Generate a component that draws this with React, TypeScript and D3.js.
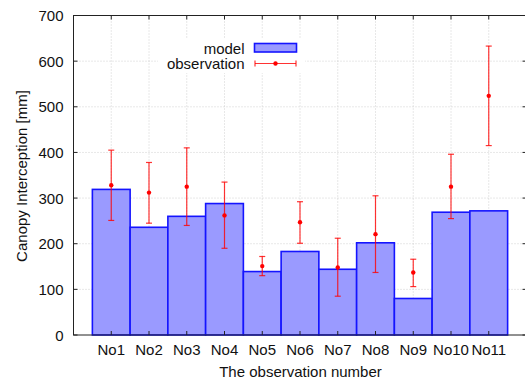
import React from 'react';
import * as d3 from 'd3';

const categories = ['No1', 'No2', 'No3', 'No4', 'No5', 'No6', 'No7', 'No8', 'No9', 'No10', 'No11'];
const modelValues = [319, 236, 260, 288, 139, 183, 144, 202, 80, 269, 272];
const obsValues = [328, 312, 325, 262, 151, 247, 148, 221, 137, 325, 524];
const obsLow = [251, 245, 240, 190, 130, 201, 85, 137, 106, 255, 415];
const obsHigh = [405, 378, 410, 335, 172, 292, 212, 305, 166, 396, 633];
const yTicks = [0, 100, 200, 300, 400, 500, 600, 700];

const W = 525;
const H = 380;
const margin = { left: 73.5, right: 526.5, top: 15.5, bottom: 335 };
const font = '"Liberation Sans", Arial, Helvetica, sans-serif';
const fs = 15;

const App = () => {
  const x = d3.scaleLinear().domain([0, 12]).range([margin.left, margin.right]);
  const y = d3.scaleLinear().domain([0, 700]).range([margin.bottom, margin.top]);
  const bw = x(1) - x(0);
  const red = '#ff0000';
  const cap = 3;

  return (
    <svg width={W} height={H} style={{ position: 'absolute', left: 0, top: 0, background: '#fff' }}>
      {/* grid */}
      <g stroke="#c4c4c4" strokeWidth={0.8} strokeDasharray="1,2">
        {yTicks.slice(1, -1).map(t => (
          <line key={'gy' + t} x1={margin.left} x2={margin.right} y1={y(t)} y2={y(t)} />
        ))}
        {categories.map((c, i) => (
          <line key={'gx' + c} x1={x(i + 1)} x2={x(i + 1)} y1={margin.top} y2={margin.bottom} />
        ))}
      </g>

      {/* legend box covers grid */}
      <rect x={158} y={38} width={147} height={35} fill="#fff" />

      {/* bars */}
      {modelValues.map((v, i) => (
        <rect key={'b' + i} x={x(i + 1) - bw / 2} y={y(v)} width={bw} height={y(0) - y(v)}
          fill="#9a9aff" stroke="#1414ff" strokeWidth={1.6} />
      ))}

      {/* error bars */}
      <g stroke={red} strokeWidth={1.2} strokeOpacity={0.8}>
        {obsValues.map((v, i) => {
          const cx = x(i + 1);
          return (
            <g key={'e' + i}>
              <line x1={cx} x2={cx} y1={y(obsLow[i])} y2={y(obsHigh[i])} />
              <line x1={cx - cap} x2={cx + cap} y1={y(obsLow[i])} y2={y(obsLow[i])} />
              <line x1={cx - cap} x2={cx + cap} y1={y(obsHigh[i])} y2={y(obsHigh[i])} />
            </g>
          );
        })}
      </g>
      {obsValues.map((v, i) => (
        <circle key={'p' + i} cx={x(i + 1)} cy={y(v)} r={2.2} fill={red} />
      ))}

      {/* border */}
      <rect x={margin.left} y={margin.top} width={margin.right - margin.left} height={margin.bottom - margin.top}
        fill="none" stroke="#222" strokeWidth={1} />

      {/* ticks */}
      <g stroke="#222" strokeWidth={1}>
        {yTicks.map(t => (
          <g key={'ty' + t}>
            <line x1={margin.left} x2={margin.left + 4} y1={y(t)} y2={y(t)} />
            <line x1={margin.right} x2={margin.right - 4} y1={y(t)} y2={y(t)} />
          </g>
        ))}
        {categories.map((c, i) => (
          <g key={'tx' + c}>
            <line x1={x(i + 1)} x2={x(i + 1)} y1={margin.bottom} y2={margin.bottom - 4} />
            <line x1={x(i + 1)} x2={x(i + 1)} y1={margin.top} y2={margin.top + 4} />
          </g>
        ))}
      </g>

      {/* tick labels */}
      <g fontFamily={font} fontSize={fs} fill="#111">
        {yTicks.map(t => (
          <text key={'ly' + t} x={63.5} y={y(t)} textAnchor="end" dominantBaseline="central">{t}</text>
        ))}
        {categories.map((c, i) => (
          <text key={'lx' + c} x={x(i + 1)} y={355} textAnchor="middle">{c}</text>
        ))}
        <text x={300.5} y={376.5} textAnchor="middle">The observation number</text>
        <text transform={`translate(27,176) rotate(-90)`} textAnchor="middle">Canopy Interception [mm]</text>
      </g>

      {/* legend */}
      <g fontFamily={font} fontSize={fs} fill="#111">
        <text x={244.5} y={48} textAnchor="end" dominantBaseline="central">model</text>
        <text x={244.5} y={63.5} textAnchor="end" dominantBaseline="central">observation</text>
      </g>
      <rect x={254.5} y={43.5} width={42} height={8.5} fill="#9a9aff" stroke="#1414ff" strokeWidth={1.6} />
      <g stroke={red} strokeWidth={1.2} strokeOpacity={0.8}>
        <line x1={255} x2={296} y1={63.5} y2={63.5} />
        <line x1={255} x2={255} y1={60.5} y2={66.5} />
        <line x1={296} x2={296} y1={60.5} y2={66.5} />
      </g>
      <circle cx={275.5} cy={63.5} r={2.2} fill={red} />
    </svg>
  );
};

export default App;
